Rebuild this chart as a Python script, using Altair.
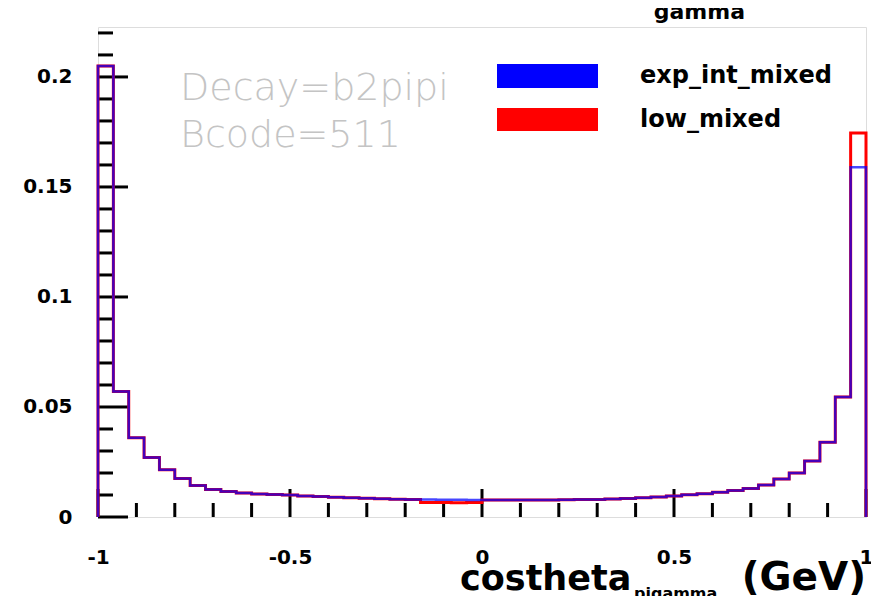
import altair as alt
import pandas as pd

# ---- data ----
bin_edges = [round(-1 + 0.04 * i, 2) for i in range(51)]

exp_int_mixed = [
    0.2050, 0.0570, 0.0360, 0.0270, 0.0215, 0.0175, 0.0143, 0.0125, 0.0116, 0.0109,
    0.0105, 0.0102, 0.0100, 0.0096, 0.0093, 0.0090, 0.0087, 0.0085, 0.0083, 0.0081,
    0.0080, 0.0079, 0.0078, 0.0078, 0.0077, 0.0077, 0.0077, 0.0077, 0.0077, 0.0077,
    0.0078, 0.0079, 0.0080, 0.0082, 0.0084, 0.0087, 0.0091, 0.0096, 0.0101, 0.0106,
    0.0112, 0.0120, 0.0130, 0.0145, 0.0173, 0.0200, 0.0255, 0.0340, 0.0545, 0.1590,
]
low_mixed = [
    0.2050, 0.0570, 0.0360, 0.0270, 0.0215, 0.0175, 0.0143, 0.0125, 0.0116, 0.0109,
    0.0105, 0.0102, 0.0100, 0.0096, 0.0093, 0.0090, 0.0087, 0.0085, 0.0083, 0.0081,
    0.0080, 0.0066, 0.0066, 0.0065, 0.0066, 0.0077, 0.0077, 0.0077, 0.0077, 0.0077,
    0.0078, 0.0079, 0.0080, 0.0082, 0.0084, 0.0087, 0.0091, 0.0096, 0.0101, 0.0106,
    0.0112, 0.0120, 0.0130, 0.0145, 0.0173, 0.0200, 0.0255, 0.0340, 0.0545, 0.1745,
]

x_major = [-1, -0.5, 0, 0.5, 1]
x_minor = [-0.9, -0.8, -0.7, -0.6, -0.4, -0.3, -0.2, -0.1,
           0.1, 0.2, 0.3, 0.4, 0.6, 0.7, 0.8, 0.9]
y_major = [0, 0.05, 0.1, 0.15, 0.2]
y_minor = [0.01, 0.02, 0.03, 0.04, 0.06, 0.07, 0.08, 0.09, 0.11, 0.12, 0.13,
           0.14, 0.16, 0.17, 0.18, 0.19, 0.21, 0.22]

series_names = ["exp_int_mixed", "low_mixed"]
series_colors = ["#0000ff", "#ff0000"]

W, H = 768, 490


def step_table(values):
    rows = [{"x": bin_edges[0], "y": 0.0, "i": 0}]
    for k, v in enumerate(values):
        rows.append({"x": bin_edges[k], "y": v, "i": k + 1})
    rows.append({"x": bin_edges[-1], "y": values[-1], "i": len(values) + 1})
    rows.append({"x": bin_edges[-1], "y": 0.0, "i": len(values) + 2})
    return pd.DataFrame(rows)


xscale = alt.Scale(domain=[-1, 1], nice=False, zero=False)
yscale = alt.Scale(domain=[0, 0.2227], nice=False, zero=True)
FONT = "DejaVu Sans"
x_axis = alt.Axis(values=x_major, labelExpr="'' + datum.value", title=None,
                  ticks=False, domain=False, grid=False, labelFont=FONT,
                  labelFontWeight="bold", labelFontSize=20, labelColor="black",
                  labelPadding=30, labelFlush=False)
y_axis = alt.Axis(values=y_major, labelExpr="'' + datum.value", title=None,
                  ticks=False, domain=False, grid=False, labelFont=FONT,
                  labelFontWeight="bold", labelFontSize=20, labelColor="black",
                  labelPadding=26)


def xq():
    return alt.X("x:Q", scale=xscale, axis=x_axis)


def yq():
    return alt.Y("y:Q", scale=yscale, axis=y_axis)


def one():
    return pd.DataFrame({"a": [0]})


layers = []

# tick marks drawn inside the frame
for vals, length in ((x_major, 28), (x_minor, 14)):
    layers.append(
        alt.Chart(pd.DataFrame({"x": vals})).mark_rule(color="black", strokeWidth=3)
        .encode(x=xq(), y=alt.value(H), y2=alt.value(H - length))
    )
for vals, length in ((y_major, 30), (y_minor, 15)):
    layers.append(
        alt.Chart(pd.DataFrame({"y": vals})).mark_rule(color="black", strokeWidth=3)
        .encode(y=yq(), x=alt.value(0), x2=alt.value(length))
    )

# histograms
layers.append(
    alt.Chart(step_table(low_mixed)).mark_line(color=series_colors[1], strokeWidth=3,
                                               interpolate="step-after")
    .encode(x=xq(), y=yq(), order="i:Q")
)
layers.append(
    alt.Chart(step_table(exp_int_mixed)).mark_line(color=series_colors[0], strokeWidth=2.5,
                                                   opacity=0.72, interpolate="step-after")
    .encode(x=xq(), y=yq(), order="i:Q")
)

# legend (manual, ROOT style boxes)
legend_rows = [(37, 61, 49), (81, 104, 93)]
for name, col, (y0, y1, yt) in zip(series_names, series_colors, legend_rows):
    layers.append(
        alt.Chart(one()).mark_rect(color=col)
        .encode(x=alt.value(399), x2=alt.value(500), y=alt.value(y0), y2=alt.value(y1))
    )
    layers.append(
        alt.Chart(one()).mark_text(
            text=name, font=FONT, fontWeight="bold", fontSize=24, color="black",
            align="left", baseline="middle")
        .encode(x=alt.value(542), y=alt.value(yt))
    )

# info text
for txt, yy in (("Decay=b2pipi", 62), ("Bcode=511", 109)):
    layers.append(
        alt.Chart(one()).mark_text(
            text=txt, font=FONT, fontWeight=200, fontSize=38, color="#c4c4c4",
            align="left", baseline="middle")
        .encode(x=alt.value(82), y=alt.value(yy))
    )

# axis title with subscript
layers.append(
    alt.Chart(one()).mark_text(
        text="costheta", font=FONT, fontWeight="bold", fontSize=35, color="black",
        align="left", baseline="alphabetic")
    .encode(x=alt.value(362), y=alt.value(563))
)
layers.append(
    alt.Chart(one()).mark_text(
        text="pigamma", font=FONT, fontWeight="bold", fontSize=16, color="black",
        align="left", baseline="alphabetic")
    .encode(x=alt.value(536), y=alt.value(572))
)
layers.append(
    alt.Chart(one()).mark_text(
        text="(GeV)", font=FONT, fontWeight="bold", fontSize=39, color="black",
        align="right", baseline="alphabetic")
    .encode(x=alt.value(W), y=alt.value(563))
)
# partially hidden title at the top
layers.append(
    alt.Chart(one()).mark_text(
        text="gamma", font=FONT, fontWeight="bold", fontSize=22, color="black",
        align="right", baseline="alphabetic")
    .encode(x=alt.value(647), y=alt.value(-8))
)

chart = alt.layer(*layers).properties(
    width=W, height=H,
    autosize=alt.AutoSizeParams(type="none"),
    padding={"left": 90, "top": 19, "right": 5, "bottom": 79},
).configure_view(stroke="black", strokeWidth=3).configure(background="white")

chart.save("out.html", embed_options={"renderer": "svg", "actions": False})
